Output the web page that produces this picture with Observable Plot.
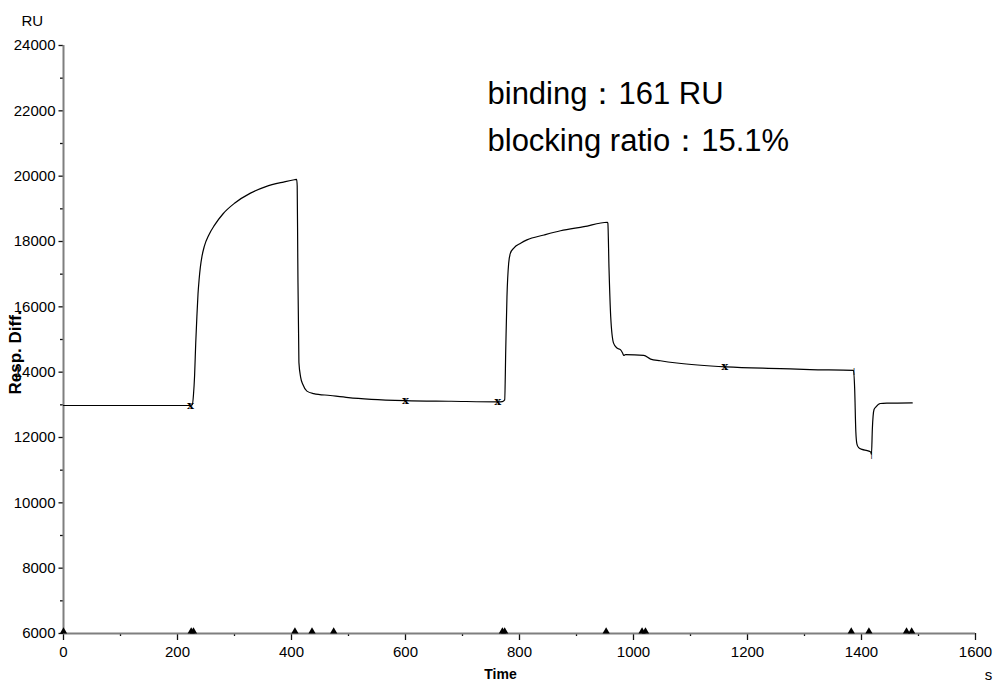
<!DOCTYPE html>
<html><head><meta charset="utf-8">
<script src="https://cdn.jsdelivr.net/npm/d3@7"></script>
<script src="https://cdn.jsdelivr.net/npm/@observablehq/plot@0.6"></script>
<style>
html,body{margin:0;padding:0;background:#fff;}
</style></head><body>
<div id="chart"></div>
<script>
// Sensorgram (time in s, response in RU)
const times = [0, 222, 226, 228, 230, 232, 234, 236, 238, 240, 243, 247, 255, 265, 280, 300, 328, 355, 386, 405, 409,
  410, 411, 413, 416, 420, 427, 439, 468, 500, 540, 600, 680, 762,
  770, 774, 776, 778, 781, 784, 790, 802, 813, 843, 872, 913, 954,
  955, 957, 960, 965, 971, 977, 981, 983, 986, 1018, 1030, 1047, 1076, 1163, 1258, 1310, 1386,
  1388, 1390, 1392, 1395, 1401, 1410, 1416, 1417.5, 1419, 1422, 1425, 1433, 1445, 1489];
const resp = [12980, 12980, 13000, 13300, 13900, 14900, 15700, 16400, 16850, 17200, 17550, 17850, 18200, 18500, 18850, 19170, 19480, 19680, 19820, 19890, 19900,
  19700, 17500, 14300, 13850, 13620, 13420, 13345, 13285, 13220, 13170, 13130, 13110, 13090,
  13100, 13150, 14800, 16300, 17335, 17640, 17800, 17945, 18050, 18200, 18330, 18455, 18590,
  18560, 17200, 15705, 14890, 14740, 14690, 14580, 14510, 14535, 14515, 14400, 14350, 14280, 14160, 14108, 14080, 14056,
  13500, 12200, 11800, 11690, 11635, 11600, 11560, 11483, 12245, 12855, 12930, 13040, 13050, 13060];

const crossTimes = [223, 600, 762, 1160];
const crossResp = [12980, 13130, 13090, 14160];
const flagTimes = [1387, 1417.5];
const flagResp = [14056, 11483];
const injectTimes = [0, 224, 228, 406, 436, 474, 770, 774, 952, 1015, 1021, 1382, 1413, 1479, 1488];

const xTicks = d3.range(0, 1601, 200);
const xMinor = d3.range(100, 1600, 200);
const yTicks = d3.range(6000, 24001, 2000);
const yMinor = d3.range(7000, 24000, 2000);
const annotations = ["binding：161 RU", "blocking ratio：15.1%"];
const yUnit = "RU", yLabel = "Resp. Diff.", xLabel = "Time", xUnit = "s";

const curve = times.map((t, i) => ({t, r: resp[i]}));
const crosses = crossTimes.map((t, i) => ({t, r: crossResp[i]}));
const flags = flagTimes.map((t, i) => ({t, r: flagResp[i]}));

const chart = Plot.plot({
  width: 993, height: 682,
  marginLeft: 63, marginRight: 18, marginTop: 45, marginBottom: 49,
  x: {domain: [0, 1600]},
  y: {domain: [6000, 24000]},
  style: {fontFamily: "'Liberation Sans', Arial, sans-serif", fontSize: "15px", background: "#fff", color: "#000"},
  marks: [
    Plot.axisY({ticks: yTicks, tickSize: 4.5, tickPadding: 3.5, tickFormat: d => String(d), label: null, stroke: "#111", strokeWidth: 1.3, fontSize: 15}),
    Plot.axisY({ticks: yMinor, tickSize: 3, tickFormat: () => "", label: null, stroke: "#111", strokeWidth: 1.3}),
    Plot.axisX({ticks: xTicks, tickSize: 7, tickPadding: 6, tickFormat: d => String(d), label: null, stroke: "#111", strokeWidth: 1.3, fontSize: 15}),
    Plot.axisX({ticks: xMinor, tickSize: 3, tickFormat: () => "", label: null, stroke: "#111", strokeWidth: 1.3}),
    Plot.ruleX([0], {stroke: "#7f7f7f", strokeWidth: 2}),
    Plot.ruleY([6000], {stroke: "#7f7f7f", strokeWidth: 2}),
    Plot.line(curve, {x: "t", y: "r", stroke: "#000", strokeWidth: 1.2, curve: "monotone-x"}),
    Plot.text(crosses, {x: "t", y: "r", text: () => "x", fontFamily: "'DejaVu Serif', serif", fontWeight: "bold", fontSize: 11, fill: "#000", lineAnchor: "middle"}),
    Plot.text(flags, {x: "t", y: "r", text: () => "|", fontSize: 8, fill: "#000", lineAnchor: "middle"}),
    Plot.dot(injectTimes, {x: d => d, frameAnchor: "bottom", dy: -2, symbol: "triangle", r: 2.7, fill: "#000", stroke: "none"}),
    Plot.text([yUnit], {frameAnchor: "top-left", dx: -42, dy: -20, textAnchor: "start", lineAnchor: "bottom", fontSize: 15}),
    Plot.text([yLabel], {frameAnchor: "left", dx: -48, dy: 13, rotate: -90, textAnchor: "middle", lineAnchor: "middle", fontSize: 17, fontWeight: "bold"}),
    Plot.text([xLabel], {frameAnchor: "bottom", dx: -19, dy: 36, textAnchor: "middle", lineAnchor: "top", fontSize: 14, fontWeight: "bold"}),
    Plot.text([xUnit], {frameAnchor: "bottom-right", dx: 13, dy: 36, textAnchor: "middle", lineAnchor: "top", fontSize: 15}),
    Plot.text([annotations[0]], {frameAnchor: "top-left", dx: 424, dy: 58, textAnchor: "start", lineAnchor: "bottom", fontSize: 31}),
    Plot.text([annotations[1]], {frameAnchor: "top-left", dx: 424, dy: 105, textAnchor: "start", lineAnchor: "bottom", fontSize: 31})
  ]
});
document.getElementById("chart").appendChild(chart);
</script>
</body></html>
